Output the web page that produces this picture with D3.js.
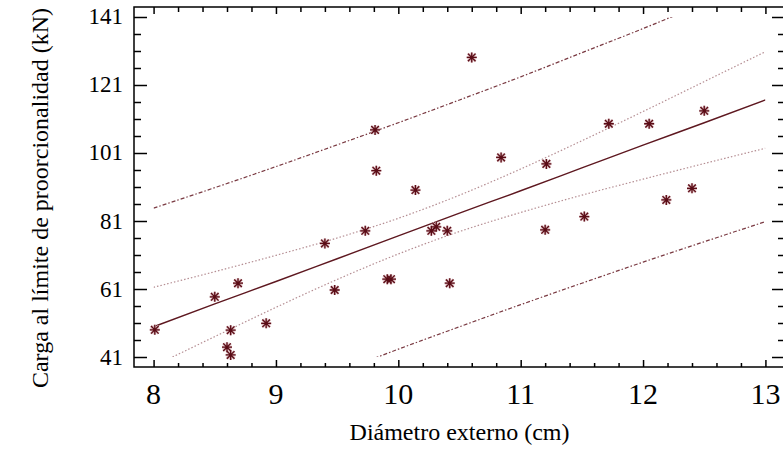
<!DOCTYPE html>
<html><head><meta charset="utf-8">
<script src="https://cdn.jsdelivr.net/npm/d3@7"></script>
<style>
body{margin:0;background:#fff}
svg{display:block}
text{font-family:"Liberation Serif","Times New Roman",serif;fill:#000}
</style>
</head><body>
<svg id="c" width="783" height="452"></svg>
<script>
// ---- data ----
const diametro = [8.01, 8.50, 8.69, 8.63, 8.60, 8.63, 8.92, 9.40, 9.48, 9.73, 9.81, 9.82, 9.91, 9.94, 10.14, 10.27, 10.31, 10.40, 10.42, 10.60, 10.84, 11.20, 11.21, 11.52, 11.72, 12.05, 12.19, 12.40, 12.50];
const carga    = [49.0, 58.7, 62.7, 48.9, 43.9, 41.6, 50.9, 74.4, 60.7, 78.1, 107.8, 95.8, 63.9, 63.9, 90.1, 78.1, 79.3, 78.1, 62.7, 129.1, 99.7, 78.4, 97.8, 82.3, 109.6, 109.6, 87.2, 90.6, 113.4];

const bandX   = [8, 8.5, 9, 9.5, 10, 10.5, 11, 11.5, 12, 12.5, 13];
const fitY    = [49.9, 56.6, 63.2, 69.9, 76.6, 83.3, 89.9, 96.6, 103.3, 109.9, 116.6];
const ciUpper = [61.5, 66.1, 70.9, 76.0, 81.8, 88.6, 96.3, 104.6, 113.2, 122.0, 130.8];
const ciLower = [38.3, 47.0, 55.6, 63.8, 71.3, 77.9, 83.5, 88.6, 93.3, 97.9, 102.4];
const piUpper = [84.8, 90.8, 97.0, 103.4, 109.9, 116.6, 123.4, 130.5, 137.6, 145.0, 152.4];
const piLower = [15.0, 22.3, 29.5, 36.4, 43.3, 49.9, 56.4, 62.7, 68.9, 74.9, 80.8];

const xMajorTicks = [8, 9, 10, 11, 12, 13];
const yMajorTicks = [41, 61, 81, 101, 121, 141];
const xMinorStep = 0.2;
const yMinorStep = 5;

const xTitle = "Diámetro externo (cm)";
const yTitle = "Carga al límite de proorcionalidad (kN)";

// ---- layout ----
const svg = d3.select("#c");
const L = 134, R = 785, T = 7, B = 367;
const x = d3.scaleLinear().domain([7.84, 13.16]).range([L, R]);
const y = d3.scaleLinear().domain([38.06, 143.94]).range([B, T]);

const xMinor = d3.range(8, 13.0001, xMinorStep).filter(v => Math.abs(v - Math.round(v)) > 1e-6);
const yMinor = d3.range(41, 141.0001, yMinorStep).filter(v => !yMajorTicks.some(t => Math.abs(t - v) < 1e-6));

// clip for curves
svg.append("defs").append("clipPath").attr("id", "clip")
  .append("rect").attr("x", x(8)).attr("y", y(141))
  .attr("width", x(13) - x(8)).attr("height", y(41) - y(141));

const gLines = svg.append("g").attr("clip-path", "url(#clip)");
const line = d3.line().x(d => x(d[0])).y(d => y(d[1])).curve(d3.curveMonotoneX);
const pts = arr => bandX.map((v, i) => [v, arr[i]]);

gLines.append("path").datum(pts(piUpper)).attr("d", line)
  .attr("fill", "none").attr("stroke", "#7a3a42").attr("stroke-width", 1.2).attr("stroke-dasharray", "4,2,1.5,2");
gLines.append("path").datum(pts(piLower)).attr("d", line)
  .attr("fill", "none").attr("stroke", "#7a3a42").attr("stroke-width", 1.2).attr("stroke-dasharray", "4,2,1.5,2");
gLines.append("path").datum(pts(ciUpper)).attr("d", line)
  .attr("fill", "none").attr("stroke", "#b58e93").attr("stroke-width", 1.2).attr("stroke-dasharray", "1.5,2");
gLines.append("path").datum(pts(ciLower)).attr("d", line)
  .attr("fill", "none").attr("stroke", "#b58e93").attr("stroke-width", 1.2).attr("stroke-dasharray", "1.5,2");
gLines.append("path").datum(pts(fitY)).attr("d", line)
  .attr("fill", "none").attr("stroke", "#5e1820").attr("stroke-width", 1.4);

// markers (asterisks)
const star = (cx, cy) => {
  const r = 5, d = 3.8;
  return `M${cx - r},${cy}h${2 * r}M${cx},${cy - r}v${2 * r}` +
         `M${cx - d},${cy - d}l${2 * d},${2 * d}M${cx - d},${cy + d}l${2 * d},${-2 * d}`;
};
const P = diametro.map((v, i) => ({ x: v, y: carga[i] }));
svg.append("g").selectAll("path.h").data(P).join("path")
  .attr("d", d => star(x(d.x), y(d.y)))
  .attr("stroke", "#d9b5b9").attr("stroke-width", 2.6).attr("fill", "none");
svg.append("g").selectAll("path.m").data(P).join("path")
  .attr("d", d => star(x(d.x), y(d.y)))
  .attr("stroke", "#5a0c16").attr("stroke-width", 1.3).attr("fill", "none");

// axes
const axStyle = g => { g.select(".domain").remove(); g.selectAll("line").attr("stroke", "#000").attr("stroke-width", 1.5); g.selectAll("text").remove(); };

svg.append("g").attr("transform", `translate(0,${B})`)
  .call(d3.axisBottom(x).tickValues(xMajorTicks).tickSize(-7)).call(axStyle);
svg.append("g").attr("transform", `translate(0,${B})`)
  .call(d3.axisBottom(x).tickValues(xMinor).tickSize(-4)).call(axStyle);
svg.append("g").attr("transform", `translate(0,${T})`)
  .call(d3.axisTop(x).tickValues(xMajorTicks).tickSize(-7)).call(axStyle);
svg.append("g").attr("transform", `translate(0,${T})`)
  .call(d3.axisTop(x).tickValues(xMinor).tickSize(-5)).call(axStyle);
svg.append("g").attr("transform", `translate(${L},0)`)
  .call(d3.axisLeft(y).tickValues(yMajorTicks).tickSize(-13)).call(axStyle);
svg.append("g").attr("transform", `translate(${L},0)`)
  .call(d3.axisLeft(y).tickValues(yMinor).tickSize(-7)).call(axStyle);
svg.append("g").attr("transform", `translate(${R},0)`)
  .call(d3.axisRight(y).tickValues(yMajorTicks).tickSize(-13)).call(axStyle);
svg.append("g").attr("transform", `translate(${R},0)`)
  .call(d3.axisRight(y).tickValues(yMinor).tickSize(-7)).call(axStyle);

// frame
svg.append("rect").attr("x", L).attr("y", T).attr("width", R - L).attr("height", B - T)
  .attr("fill", "none").attr("stroke", "#000").attr("stroke-width", 1.5);

// tick labels
svg.append("g").selectAll("text").data(xMajorTicks).join("text")
  .attr("x", d => x(d)).attr("y", 404).attr("text-anchor", "middle")
  .attr("font-size", 30).text(d => d);
svg.append("g").selectAll("text").data(yMajorTicks).join("text")
  .attr("x", 123).attr("y", d => y(d) + 7.5).attr("text-anchor", "end")
  .attr("font-size", 23).text(d => d);

// titles
svg.append("text").attr("x", (L + R) / 2).attr("y", 440).attr("text-anchor", "middle")
  .attr("font-size", 24).text(xTitle);
svg.append("text").attr("transform", "translate(48,198) rotate(-90)").attr("text-anchor", "middle")
  .attr("font-size", 24).text(yTitle);
</script>
</body></html>
